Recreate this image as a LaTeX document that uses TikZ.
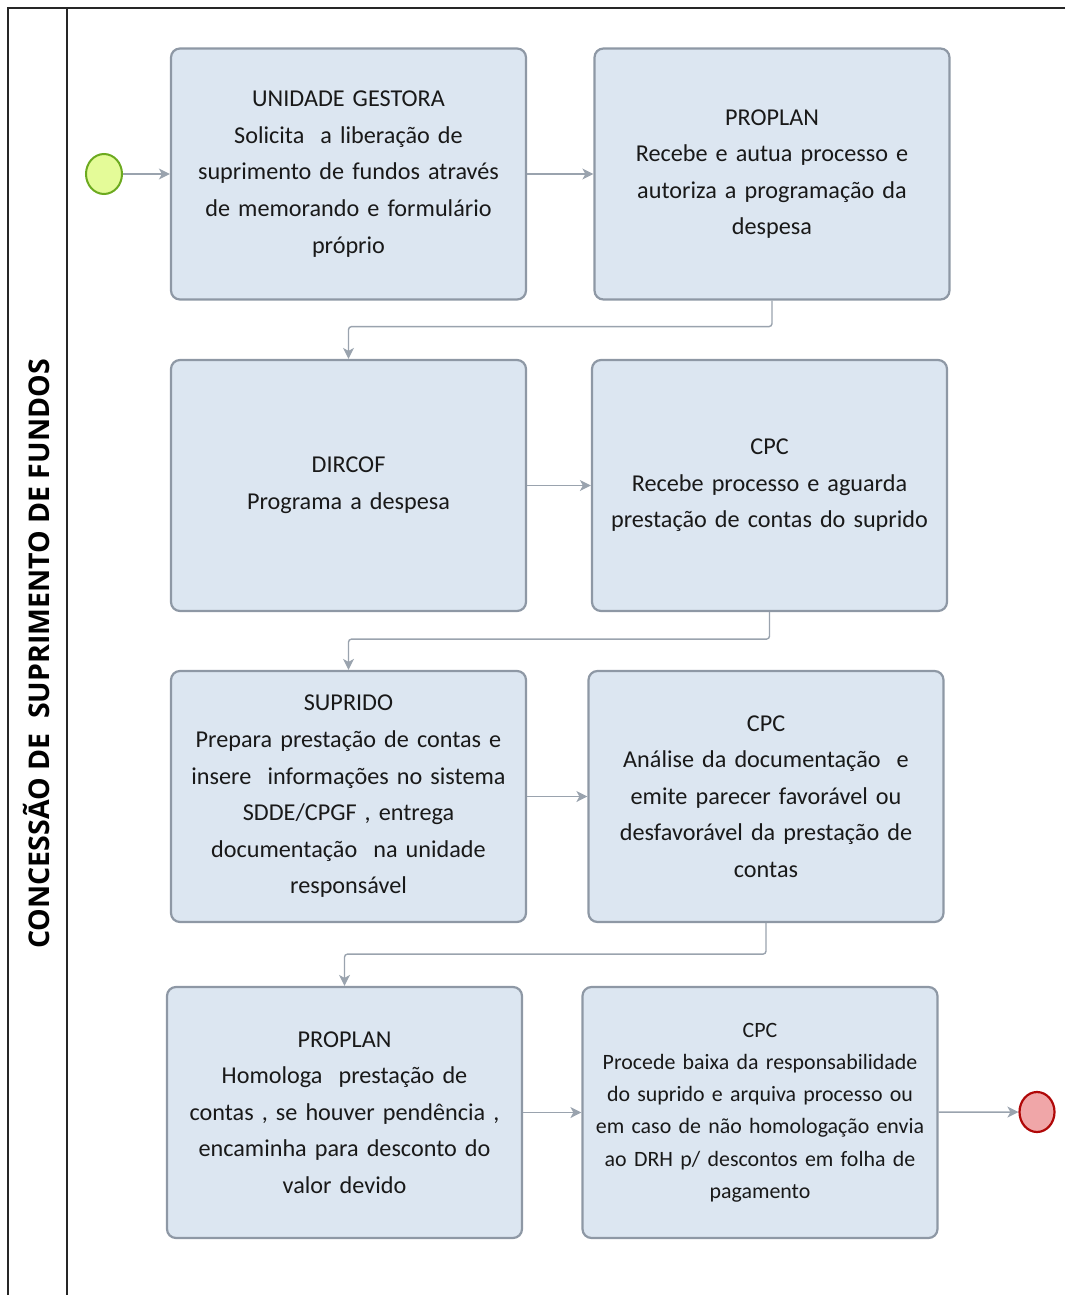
\documentclass[tikz,border=0pt]{standalone}
\usepackage{fontspec}
\setmainfont{Carlito}
\newfontfamily\lanefont{Open Sans}
\usetikzlibrary{arrows.meta,positioning,calc,shapes.geometric}

\definecolor{boxfill}{HTML}{DCE6F1}
\definecolor{boxline}{HTML}{8E98A5}
\definecolor{flowline}{HTML}{9AA3AE}
\definecolor{startfill}{HTML}{E4FB98}
\definecolor{startline}{HTML}{6CAA1F}
\definecolor{endfill}{HTML}{F0A6A8}
\definecolor{endline}{HTML}{B00808}

\begin{document}
\begin{tikzpicture}[x=1pt,y=-1pt,
    taskbox/.style={draw=boxline, fill=boxfill, line width=2.2pt, rounded corners=9pt,
        minimum width=355pt, minimum height=251pt, align=center, text width=345pt,
        font=\fontsize{24.2}{36.6}\selectfont, text=black!90},
    smallbox/.style={taskbox, font=\fontsize{21.9}{32.2}\selectfont},
    flow/.style={draw=flowline, line width=1.4pt, rounded corners=3pt,
        -{Stealth[length=11pt,width=11pt,inset=3pt]}},
    startev/.style={ellipse, draw=startline, fill=startfill, line width=2pt,
        minimum width=36pt, minimum height=40pt, inner sep=0pt},
    endev/.style={ellipse, draw=endline, fill=endfill, line width=2.2pt,
        minimum width=35pt, minimum height=40pt, inner sep=0pt}]
    \useasboundingbox (0,0) rectangle (1065,1295);

    % Lane
    \draw[line width=1.3pt, black!85] (1065,8) -- (8,8) -- (8,1295);
    \draw[line width=1.3pt, black!85] (67,8) -- (67,1295);
    \node[rotate=90, font=\lanefont\bfseries\fontsize{28.5}{32}\selectfont] (lane) at (37,654)
        {CONCESSÃO DE \ SUPRIMENTO DE FUNDOS};

    % Events
    \node[startev] (start) at (104,174) {};
    \node[endev] (finish) at (1037,1112) {};

    % Row 1
    \node[taskbox] (ug) at (348.5,174) {UNIDADE GESTORA\\Solicita \ a liberação de\\suprimento de fundos através\\de memorando e formulário\\próprio};
    \node[taskbox] (proplanA) at (772,174) {PROPLAN\\Recebe e autua processo e\\autoriza a programação da\\despesa};

    % Row 2
    \node[taskbox] (dircof) at (348.5,485.5) {DIRCOF\\Programa a despesa};
    \node[taskbox] (cpcA) at (769.5,485.5) {CPC\\Recebe processo e aguarda\\prestação de contas do suprido};

    % Row 3
    \node[taskbox] (suprido) at (348.5,796.5) {SUPRIDO\\Prepara prestação de contas e\\insere \ informações no sistema\\SDDE/CPGF , entrega\\documentação \ na unidade\\responsável};
    \node[taskbox] (cpcB) at (766,796.5) {CPC\\Análise da documentação \ e\\emite parecer favorável ou\\desfavorável da prestação de\\contas};

    % Row 4
    \node[taskbox] (proplanB) at (344.5,1112.5) {PROPLAN\\Homologa \ prestação de\\contas , se houver pendência ,\\encaminha para desconto do\\valor devido};
    \node[smallbox] (cpcC) at (760,1112.5) {CPC\\Procede baixa da responsabilidade\\do suprido e arquiva processo ou\\em caso de não homologação envia\\ao DRH p/ descontos em folha de\\pagamento};

    % Flows
    \draw[flow] (start) -- (ug);
    \draw[flow] (ug) -- (proplanA);
    \draw[flow] (proplanA.south) -- ++(0,26) -| (dircof.north);
    \draw[flow] (dircof) -- (cpcA);
    \draw[flow] (cpcA.south) -- ++(0,27) -| (suprido.north);
    \draw[flow] (suprido) -- (cpcB);
    \draw[flow] (cpcB.south) -- ++(0,31) -| (proplanB.north);
    \draw[flow] (proplanB) -- (cpcC);
    \draw[flow] (cpcC) -- (finish);
\end{tikzpicture}
\end{document}
